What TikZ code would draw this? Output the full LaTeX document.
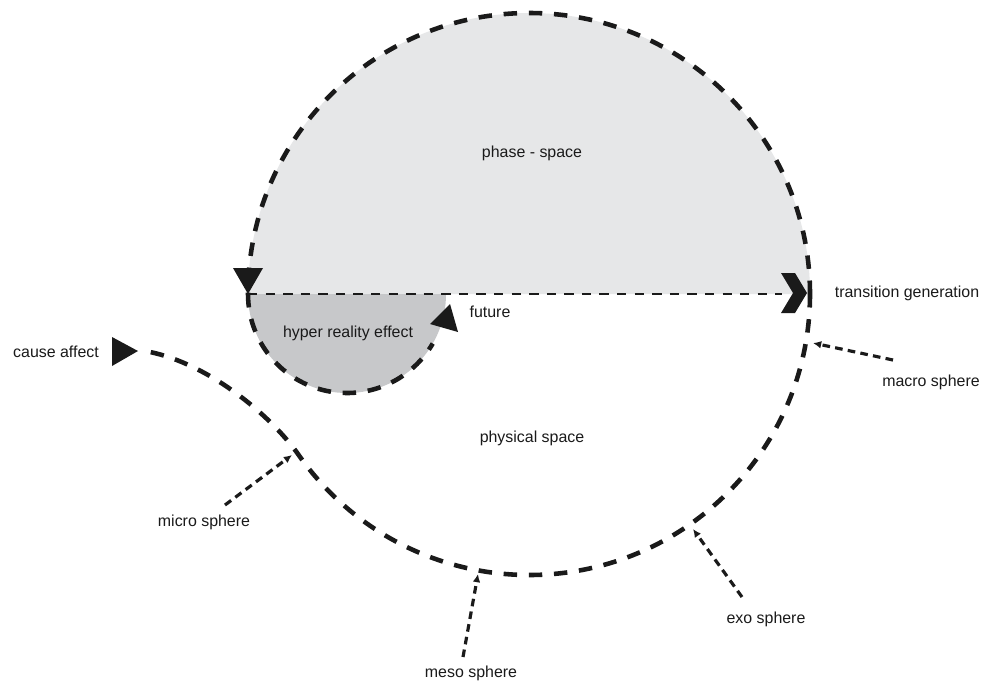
\documentclass[tikz,border=0pt]{standalone}
\usepackage{fontspec}
\setmainfont{Liberation Sans}
\usetikzlibrary{arrows.meta}
\definecolor{phasegray}{HTML}{E6E7E8}
\definecolor{hypergray}{HTML}{C7C8CA}
\definecolor{ink}{HTML}{1A1A1A}
\begin{document}
\begin{tikzpicture}[x=0.03cm,y=0.03cm,
  boundary/.style={draw=ink,line width=3.9pt,dash pattern=on 11.5pt off 10pt},
  divider/.style={draw=ink,line width=2.4pt,dash pattern=on 8pt off 7pt},
  pointer/.style={draw=ink,line width=2.7pt,dash pattern=on 6.5pt off 4.5pt,
                  -{Latex[length=7pt,width=6.5pt]}},
  tipshape/.style={fill=ink},
  lbl/.style={font=\fontsize{13.6pt}{16pt}\selectfont,text=ink,inner sep=0pt}]

\useasboundingbox (0,0) rectangle (989,-688);
\fill[white] (0,0) rectangle (989,-688);

% shaded regions
\fill[phasegray] (810,-294) arc[start angle=0,end angle=180,radius=281] -- cycle;
\fill[hypergray] (248,-294) arc[start angle=180,end angle=360,radius=99] -- cycle;

% dividing line between the two spaces
\draw[divider] (248,-294) -- (782,-294);

% phase-space boundary
\draw[boundary] (810,-294) arc[start angle=0,end angle=180,radius=281];
% hyper reality loop
\draw[boundary] (248,-294) arc[start angle=180,end angle=330,radius=99];
% physical space boundary, running out to the cause/affect end
\draw[boundary] (810,-294) arc[start angle=0,end angle=-145,radius=281]
  .. controls (270,-414) and (208,-364) .. (150,-352);

% arrow heads
\fill[tipshape] (233,-268) -- (263,-268) -- (248,-294) -- cycle;
\fill[tipshape] (450,-304) -- (430,-324) -- (458,-332) -- cycle;
\fill[tipshape] (112,-337) -- (112,-366) -- (138,-351) -- cycle;
\fill[tipshape] (781,-273) -- (795,-273) -- (807,-293) -- (795,-313)
  -- (781,-313) -- (793,-293) -- cycle;

% labels
\node[lbl] (phase)    at (532,-153) {phase - space};
\node[lbl] (trans)    at (907,-293) {transition generation};
\node[lbl] (future)   at (490,-312) {future};
\node[lbl] (hyper)    at (348,-333) {hyper reality effect};
\node[lbl] (cause)    at (56,-352)  {cause affect};
\node[lbl] (physical) at (532,-438) {physical space};
\node[lbl] (micro)    at (204,-522) {micro sphere};
\node[lbl] (meso)     at (471,-673) {meso sphere};
\node[lbl] (exo)      at (766,-619) {exo sphere};
\node[lbl] (macro)    at (931,-382) {macro sphere};

% sphere pointers
\coordinate (microS) at (225,-505);
\coordinate (microJ) at (292,-455);
\coordinate (mesoS)  at (463,-657);
\coordinate (mesoJ)  at (478,-574);
\coordinate (exoS)   at (742,-597);
\coordinate (exoJ)   at (693,-529);
\coordinate (macroS) at (893,-360);
\coordinate (macroJ) at (813,-343);
\draw[pointer] (microS) -- (microJ);
\draw[pointer] (mesoS) -- (mesoJ);
\draw[pointer] (exoS) -- (exoJ);
\draw[pointer] (macroS) -- (macroJ);
\end{tikzpicture}
\end{document}
